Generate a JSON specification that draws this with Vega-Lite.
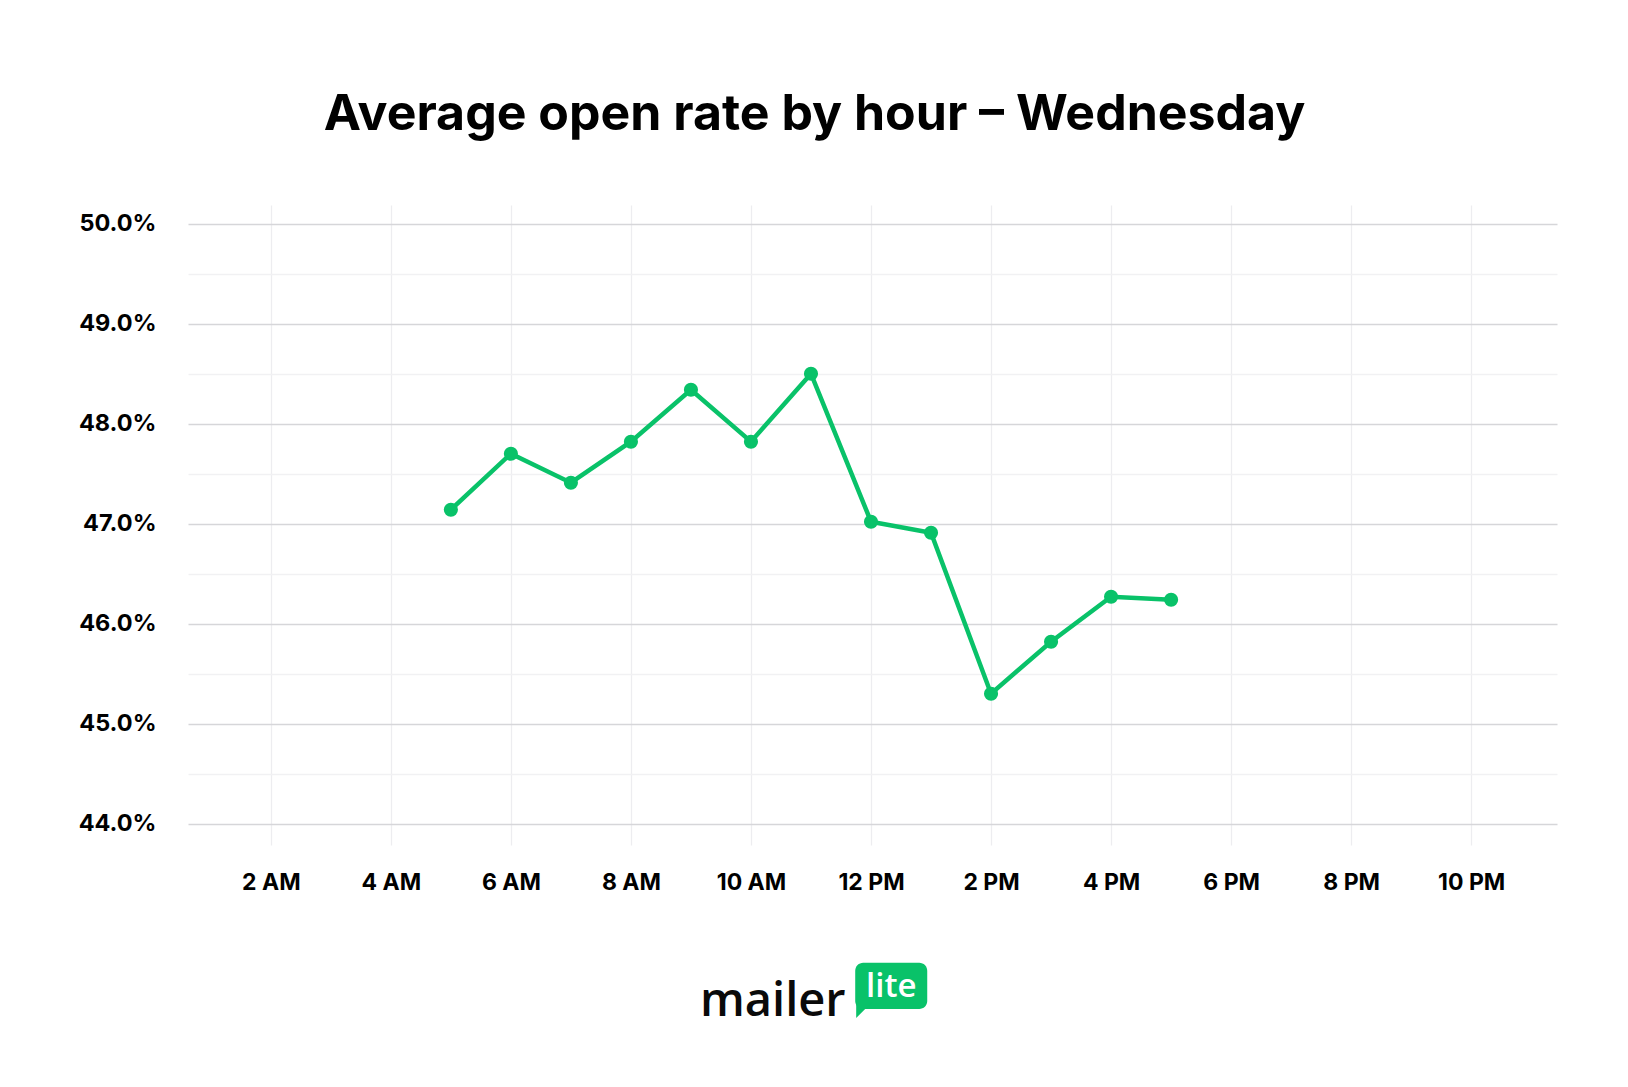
{
  "$schema": "https://vega.github.io/schema/vega-lite/v6.json",
  "width": 1369,
  "height": 640,
  "autosize": {"type": "none"},
  "padding": {"left": 188, "top": 205, "right": 71, "bottom": 242},
  "background": "#ffffff",
  "title": {
    "text": "Average open rate by hour – Wednesday",
    "font": "Inter",
    "fontSize": 50,
    "fontWeight": 700,
    "color": "#000000",
    "anchor": "middle",
    "frame": "group",
    "dx": -58,
    "offset": 65
  },
  "config": {
    "view": {"stroke": null},
    "axis": {"domain": false, "ticks": false, "tickSize": 0, "title": null}
  },
  "data": {
    "values": [
      {"hour": 5, "rate": 47.14},
      {"hour": 6, "rate": 47.70},
      {"hour": 7, "rate": 47.41},
      {"hour": 8, "rate": 47.82},
      {"hour": 9, "rate": 48.34},
      {"hour": 10, "rate": 47.82},
      {"hour": 11, "rate": 48.50},
      {"hour": 12, "rate": 47.02},
      {"hour": 13, "rate": 46.91},
      {"hour": 14, "rate": 45.30},
      {"hour": 15, "rate": 45.82},
      {"hour": 16, "rate": 46.27},
      {"hour": 17, "rate": 46.24}
    ]
  },
  "layer": [
    {
      "mark": {
        "type": "line",
        "color": "#09c269",
        "strokeWidth": 4.5,
        "point": {"filled": true, "size": 200, "color": "#09c269", "opacity": 1}
      },
      "encoding": {
        "x": {
          "field": "hour",
          "type": "quantitative",
          "title": null,
          "scale": {"domain": [0.62, 23.43], "nice": false, "zero": false},
          "axis": {
            "values": [2, 4, 6, 8, 10, 12, 14, 16, 18, 20, 22],
            "labelExpr": "datum.value < 12 ? datum.value + ' AM' : (datum.value == 12 ? '12 PM' : (datum.value - 12) + ' PM')",
            "labelFont": "Inter",
            "labelFontSize": 23,
            "labelFontWeight": 700,
            "labelColor": "#000000",
            "labelBaseline": "alphabetic",
            "labelPadding": 44,
            "labelFlush": false,
            "labelOverlap": false,
            "grid": true,
            "gridColor": "#ededf0",
            "gridWidth": 1.3
          }
        },
        "y": {
          "field": "rate",
          "type": "quantitative",
          "title": null,
          "scale": {"domain": [43.787, 50.187], "nice": false, "zero": false},
          "axis": {
            "values": [44, 44.5, 45, 45.5, 46, 46.5, 47, 47.5, 48, 48.5, 49, 49.5, 50],
            "labelExpr": "datum.value % 1 === 0 ? format(datum.value, '.1f') + '%' : ''",
            "labelFont": "Inter",
            "labelFontSize": 23.5,
            "labelFontWeight": 700,
            "labelColor": "#000000",
            "labelPadding": 32,
            "labelBaseline": "middle",
            "labelFlush": false,
            "labelOverlap": false,
            "grid": true,
            "gridColor": {"condition": {"test": "datum.value % 1 === 0", "value": "#d6d6d9"}, "value": "#f1f1f3"},
            "gridWidth": 1.3
          }
        }
      }
    },
    {
      "data": {"values": [{}]},
      "mark": {"type": "text", "text": "mailer", "font": "Open Sans", "fontSize": 47, "fontWeight": 600, "color": "#0a0a0a", "align": "left", "baseline": "alphabetic"},
      "encoding": {
        "x": {"datum": 9.15, "type": "quantitative", "title": null},
        "y": {"datum": 42.077, "type": "quantitative", "title": null}
      }
    },
    {
      "data": {"values": [{}]},
      "mark": {"type": "rect", "color": "#09c269", "cornerRadius": 8},
      "encoding": {
        "x": {"datum": 11.737, "type": "quantitative", "title": null},
        "x2": {"datum": 12.937},
        "y": {"datum": 42.61, "type": "quantitative", "title": null},
        "y2": {"datum": 42.147}
      }
    },
    {
      "data": {"values": [{}]},
      "mark": {"type": "point", "shape": "M -1 -1 L 1 -1 L -1 1 Z", "filled": true, "size": 256, "color": "#09c269", "opacity": 1},
      "encoding": {
        "x": {"datum": 11.887, "type": "quantitative", "title": null},
        "y": {"datum": 42.137, "type": "quantitative", "title": null}
      }
    },
    {
      "data": {"values": [{}]},
      "mark": {"type": "text", "text": "lite", "font": "Open Sans", "fontSize": 33, "fontWeight": 600, "color": "#ffffff", "align": "center", "baseline": "alphabetic"},
      "encoding": {
        "x": {"datum": 12.337, "type": "quantitative", "title": null},
        "y": {"datum": 42.267, "type": "quantitative", "title": null}
      }
    }
  ]
}
